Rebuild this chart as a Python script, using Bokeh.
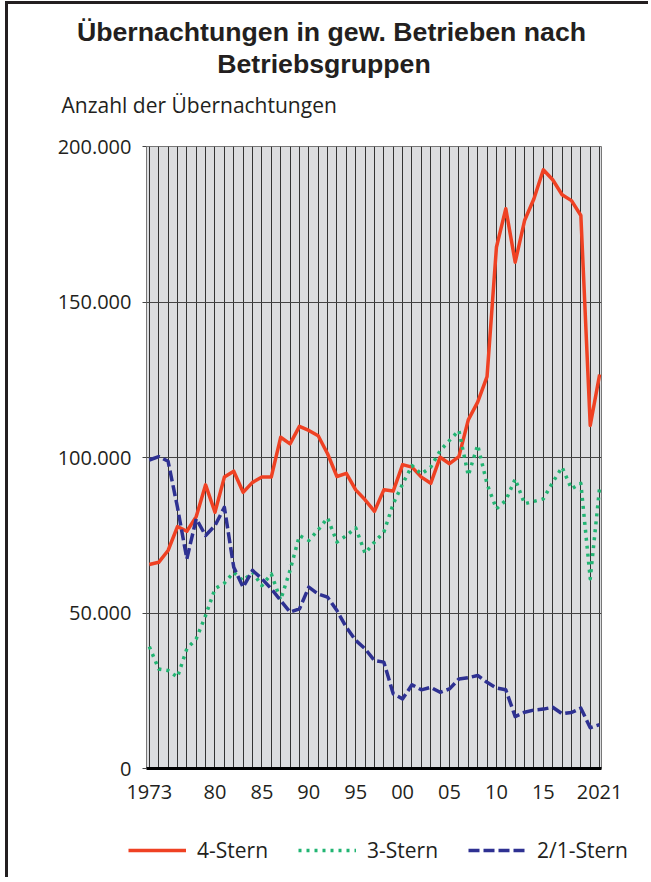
from bokeh.plotting import figure
from bokeh.layouts import column
from bokeh.models import (Range1d, FixedTicker, Label, Legend, LegendItem, ColumnDataSource)
from bokeh.embed import file_html
from bokeh.resources import INLINE

years = list(range(1973, 2022))
four_star = [65600, 66300, 70100, 77800, 76300, 81000, 91200, 82400, 93700, 95600,
             88800, 92000, 93700, 93700, 106500, 104400, 110000, 108700, 107000, 101200,
             93900, 94900, 89600, 86400, 82700, 89600, 89200, 97700, 96900, 93700,
             91700, 100100, 98000, 100300, 112100, 117800, 126000, 167600, 180000, 162800,
             176200, 183200, 192500, 189300, 184500, 182600, 177800, 110300, 126700]
three_star = [39200, 32000, 31500, 29400, 38500, 41700, 49200, 57800, 59600, 63100,
              60400, 63100, 58800, 62600, 54200, 63700, 74900, 73300, 76700, 80600,
              72800, 74900, 77400, 69200, 72800, 76000, 85100, 91500, 97400, 94700,
              96900, 102200, 105500, 108700, 94200, 104000, 91500, 83500, 86200, 93100,
              85100, 85900, 86700, 92000, 96900, 89900, 91700, 61000, 90400]
two_one_star = [99200, 100300, 98800, 84000, 67400, 80300, 74900, 78100, 84000, 64700,
                58300, 63700, 61000, 57800, 54000, 50300, 51300, 58300, 56100, 55100,
                50800, 45400, 41200, 38500, 34700, 34200, 24000, 22400, 26900, 25300,
                26100, 24500, 25600, 28800, 29200, 29900, 27700, 25900, 25300, 16700,
                18100, 18800, 19100, 19700, 17600, 18000, 19400, 13100, 14100]

x_ticks = [1973, 1980, 1985, 1990, 1995, 2000, 2005, 2010, 2015, 2021]
x_tick_labels = ["1973", "80", "85", "90", "95", "00", "05", "10", "15", "2021"]
y_ticks = [0, 50000, 100000, 150000, 200000]
y_tick_labels = ["0", "50.000", "100.000", "150.000", "200.000"]

title_line1 = "Übernachtungen in gew. Betrieben nach"
title_line2 = "Betriebsgruppen"
y_title = "Anzahl der Übernachtungen"
series_names = ["4-Stern", "3-Stern", "2/1-Stern"]
series_cols = ["four", "three", "two"]
series_colors = ["#ef4123", "#22b573", "#2e3192"]
series_dash = ["solid", "3 5", "11 4"]

FONT = "Open Sans"
TITLE_FONT = "Liberation Sans"
TXT = "#231f20"
W = 640

# ---------- header with titles ----------
header = figure(width=W, height=116, x_range=Range1d(0, W), y_range=Range1d(0, 116),
                output_backend="svg", toolbar_location=None, x_axis_type=None, y_axis_type=None,
                min_border=0, outline_line_color=None, frame_align=False)
header.xgrid.visible = False
header.ygrid.visible = False
header.add_layout(Label(x=323, y=88.5, x_units="screen", y_units="screen", text=title_line1,
                        text_align="center", text_baseline="alphabetic", text_font=TITLE_FONT,
                        text_font_style="bold", text_font_size="26.7px", text_color=TXT))
header.add_layout(Label(x=315.5, y=56.5, x_units="screen", y_units="screen", text=title_line2,
                        text_align="center", text_baseline="alphabetic", text_font=TITLE_FONT,
                        text_font_style="bold", text_font_size="26.7px", text_color=TXT))
header.add_layout(Label(x=53, y=16, x_units="screen", y_units="screen", text=y_title,
                        text_align="left", text_baseline="alphabetic", text_font=FONT,
                        text_font_size="21px", text_color=TXT))

# ---------- main chart ----------
p = figure(width=W, height=688, x_range=Range1d(1972.7, 2021.2), y_range=Range1d(0, 200000),
           output_backend="svg", toolbar_location=None,
           min_border_left=138, min_border_right=47, min_border_top=26, min_border_bottom=40)
p.background_fill_color = "#dcdddf"
p.border_fill_color = "white"
p.outline_line_color = "#777777"

p.xgrid.ticker = FixedTicker(ticks=years)
p.xgrid.grid_line_color = "#333333"
p.xgrid.grid_line_width = 1
p.ygrid.ticker = FixedTicker(ticks=y_ticks[1:])
p.ygrid.grid_line_color = "#444444"
p.ygrid.grid_line_width = 1.2

p.xaxis.ticker = FixedTicker(ticks=x_ticks)
p.xaxis.major_label_overrides = {t: l for t, l in zip(x_ticks, x_tick_labels)}
p.xaxis.axis_line_color = "black"
p.xaxis.axis_line_width = 3
p.xaxis.major_tick_out = 0
p.xaxis.major_tick_in = 0
p.xaxis.minor_tick_line_color = None
p.xaxis.major_label_standoff = 16
p.xaxis.major_label_text_font = FONT
p.xaxis.major_label_text_font_size = "20px"
p.xaxis.major_label_text_color = TXT

p.yaxis.ticker = FixedTicker(ticks=y_ticks)
p.yaxis.major_label_overrides = {t: l for t, l in zip(y_ticks, y_tick_labels)}
p.yaxis.axis_line_color = None
p.yaxis.major_tick_out = 4
p.yaxis.major_tick_in = 0
p.yaxis.major_tick_line_color = "#444444"
p.yaxis.minor_tick_line_color = None
p.yaxis.major_label_standoff = 11
p.yaxis.major_label_text_font = FONT
p.yaxis.major_label_text_font_size = "20px"
p.yaxis.major_label_text_color = TXT

src = ColumnDataSource(dict(year=years, four=four_star, three=three_star, two=two_one_star))
for col_name, c, d in zip(series_cols, series_colors, series_dash):
    p.line("year", col_name, source=src, line_color=c, line_width=3.5, line_dash=d,
           line_join="round")

# ---------- legend strip (series drawn outside its view; only the key shows) ----------
lf = figure(width=W, height=69, x_range=Range1d(0, 1), y_range=Range1d(0, 1),
            output_backend="svg", toolbar_location=None, x_axis_type=None, y_axis_type=None,
            min_border=0, outline_line_color=None, frame_align=False)
lf.xgrid.visible = False
lf.ygrid.visible = False
items = []
for name, col_name, c, d in zip(series_names, series_cols, series_colors, series_dash):
    r = lf.line("year", col_name, source=src, line_color=c, line_width=3.5, line_dash=d)
    items.append(LegendItem(label=name, renderers=[r]))
legend = Legend(items=items, location=(120, 13), orientation="horizontal",
                glyph_width=58, glyph_height=20, label_standoff=11, spacing=30,
                padding=0, margin=0, border_line_color=None, background_fill_alpha=0,
                label_text_font=FONT, label_text_font_size="21px", label_text_color=TXT)
lf.add_layout(legend, "center")

page = column(header, p, lf, spacing=0,
              styles={"border-left": "3px solid #231f20", "border-top": "3px solid #231f20",
                      "margin-left": "5px", "margin-top": "1px"})

open("out.html", "w").write(file_html(page, INLINE))
